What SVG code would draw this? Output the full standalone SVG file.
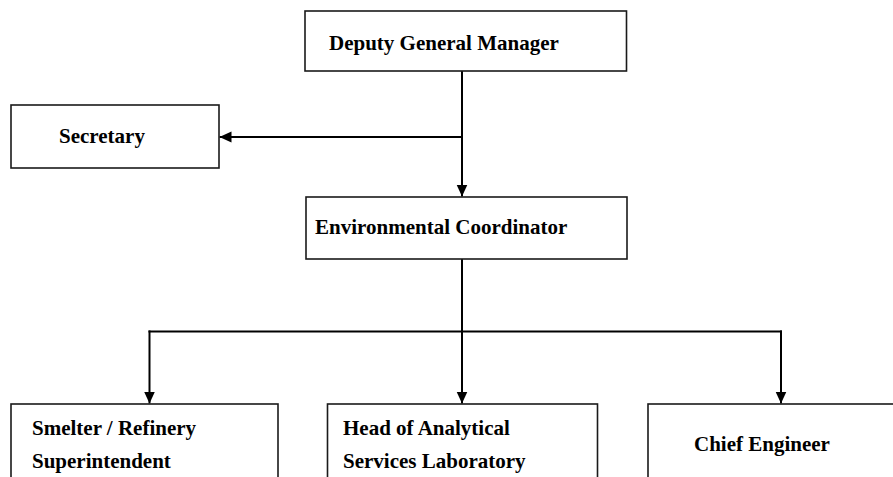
<svg xmlns="http://www.w3.org/2000/svg" width="893" height="477" viewBox="0 0 893 477">
<style>
.box{fill:#fff;stroke:#1a1a1a;stroke-width:1.6}
.lbl{font-family:"Liberation Serif","Times New Roman",serif;font-weight:bold;font-size:21px;fill:#000}
.conn{fill:none;stroke:#000;stroke-width:2}
</style>
<defs>
<marker id="ah" markerUnits="userSpaceOnUse" markerWidth="12" markerHeight="12" viewBox="0 0 12 12" refX="12" refY="6" orient="auto">
<path d="M0,0.5 L12,6 L0,11.5 Z" fill="#000"/>
</marker>
</defs>
<rect width="893" height="477" fill="#fff"/>
<g id="connectors">
<line class="conn" x1="462" y1="71" x2="462" y2="196.5" marker-end="url(#ah)"/>
<line class="conn" x1="462" y1="137" x2="219.5" y2="137" marker-end="url(#ah)"/>
<line class="conn" x1="462" y1="259" x2="462" y2="403.5" marker-end="url(#ah)"/>
<line class="conn" x1="148.5" y1="331.5" x2="782" y2="331.5"/>
<line class="conn" x1="149.5" y1="330.5" x2="149.5" y2="403.5" marker-end="url(#ah)"/>
<line class="conn" x1="781" y1="330.5" x2="781" y2="403.5" marker-end="url(#ah)"/>
</g>
<g id="dgm">
<rect class="box" x="305" y="11" width="321.5" height="60"/>
<text class="lbl" x="329" y="50">Deputy General Manager</text>
</g>
<g id="secretary">
<rect class="box" x="11" y="105" width="208" height="63"/>
<text class="lbl" x="59" y="143">Secretary</text>
</g>
<g id="env">
<rect class="box" x="306" y="197" width="321" height="62"/>
<text class="lbl" x="315" y="234">Environmental Coordinator</text>
</g>
<g id="smelter">
<rect class="box" x="11" y="404" width="267" height="90"/>
<text class="lbl" x="32" y="435">Smelter / Refinery</text>
<text class="lbl" x="32" y="468">Superintendent</text>
</g>
<g id="lab">
<rect class="box" x="327.5" y="404" width="270" height="90"/>
<text class="lbl" x="343" y="435">Head of Analytical</text>
<text class="lbl" x="343" y="468">Services Laboratory</text>
</g>
<g id="chief">
<rect class="box" x="648" y="404" width="270" height="90"/>
<text class="lbl" x="694" y="451">Chief Engineer</text>
</g>
</svg>
